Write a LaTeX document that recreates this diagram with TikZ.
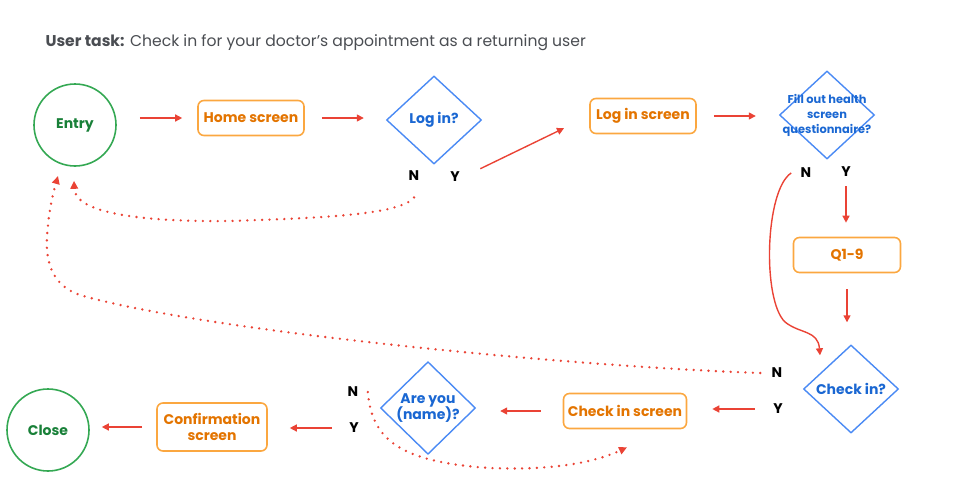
\documentclass[tikz,border=0pt]{standalone}
\usepackage{fontspec}
\setmainfont{Poppins}
\usetikzlibrary{shapes.geometric,arrows.meta}

\definecolor{flowred}{HTML}{EA4335}
\definecolor{endgreen}{HTML}{34A853}
\definecolor{endtext}{HTML}{188038}
\definecolor{boxorange}{HTML}{FBA740}
\definecolor{boxtext}{HTML}{E37400}
\definecolor{askblue}{HTML}{4A8AF4}
\definecolor{asktext}{HTML}{1A67D2}
\definecolor{titlegray}{HTML}{4A4D52}

\newcommand*{\picW}{960}
\newcommand*{\picH}{493}

\begin{document}
\begin{tikzpicture}[x=1pt,y=-1pt,
    every node/.style={font=\fontsize{14}{16.5}\selectfont\bfseries},
    endpt/.style={circle,draw=endgreen,line width=1.6pt,minimum size=82pt,inner sep=0pt,text=endtext},
    screen/.style={rectangle,rounded corners=6pt,draw=boxorange,line width=1.6pt,text=boxtext,minimum height=35pt,align=center},
    ask/.style={diamond,draw=askblue,line width=1.4pt,minimum width=95pt,minimum height=88pt,inner sep=0pt,text=asktext,align=center},
    asksmall/.style={text=asktext,align=center,font=\fontsize{11.4}{15}\selectfont\bfseries},
    yn/.style={text=black,font=\fontsize{14}{16}\selectfont\bfseries},
    arr/.style={flowred,line width=1.4pt,-{Triangle[length=7pt,width=7pt]}},
    dots/.style={flowred,line width=2.6pt,line cap=round,dash pattern=on 0pt off 7.4pt,-{Triangle[length=8pt,width=7.5pt]}}]
    \useasboundingbox (0,0) rectangle (\picW,\picH);

    % title
    \node[anchor=west,text=titlegray,font=\fontsize{15.6}{18}\selectfont] (title) at (42,43)
        {\textbf{User task:} Check in for your doctor’s appointment as a returning user};

    % top row
    \node[endpt] (entry) at (75,125) {Entry};
    \node[screen,minimum width=106pt] (home) at (251,118) {Home screen};
    \node[ask] (login) at (434,120) {Log in?};
    \node[screen,minimum width=106pt] (loginscr) at (643,116) {Log in screen};
    \node[ask] (fillout) at (827,115) {};
    \node[asksmall] (filltext) at (fillout) {Fill out health\\screen\\questionnaire?};

    % right column
    \node[screen,minimum width=107pt] (qnine) at (847,255) {Q1-9};
    \node[ask] (checkin) at (851,389) {Check in?};

    % bottom row
    \node[screen,minimum width=123pt] (checkscr) at (625,411) {Check in screen};
    \node[ask] (areyou) at (428,408) {Are you\\(name)?};
    \node[screen,minimum width=110pt,minimum height=48pt] (confirm) at (212,427) {Confirmation\\screen};
    \node[endpt] (close) at (48,430) {Close};

    % N / Y labels
    \foreach \nm/\x/\y/\t in {loginN/414/176/N,loginY/455/177/Y,fillN/806/173/N,fillY/846/172/Y,
                             checkN/777/373/N,checkY/778/409/Y,areN/353/392/N,areY/354/428/Y} {
        \node[yn] (\nm) at (\x,\y) {\t};
    }

    % straight arrows
    \draw[arr,shorten <=23pt,shorten >=15pt] (entry.east |- home.west) -- (home.west);
    \draw[arr,shorten <=17pt,shorten >=22pt] (home.east) -- (home.east -| login.west);
    \draw[arr,shorten <=19pt,shorten >=28pt] (loginY.east) -- (loginscr.west);
    \draw[arr,shorten <=17pt,shorten >=23pt] (loginscr.east) -- (loginscr.east -| fillout.west);
    \draw[arr,shorten <=6pt,shorten >=14pt] (fillY.south) -- (fillY.south |- qnine.north);
    \draw[arr,shorten <=16pt,shorten >=22pt] (qnine.south) -- (qnine.south |- checkin.north);
    \draw[arr,shorten <=15pt,shorten >=25pt] (checkY.west) -- (checkY.west -| checkscr.east);
    \draw[arr,shorten <=22pt,shorten >=24pt] (checkscr.west) -- (checkscr.west -| areyou.east);
    \draw[arr,shorten <=14pt,shorten >=22pt] (areY.west) -- (areY.west -| confirm.east);
    \draw[arr,shorten <=14pt,shorten >=12pt] (confirm.west) -- (confirm.west -| close.east);

    % curved ones
    \draw[arr] ([xshift=-6pt]fillN.west) .. controls (765,190) and (762,300) .. (785,322)
        .. controls (800,334) and (818,330) .. ([shift={(-31pt,-11pt)}]checkin.north);
    \draw[dots] ([yshift=-13pt]loginN.south) .. controls (400,215) and (320,218) .. (230,221)
        .. controls (140,222) and (75,213) .. ([shift={(-1pt,-14pt)}]entry.south);
    \draw[dots] ([xshift=-8pt]checkN.west) .. controls (560,366) and (200,330) .. (80,295)
        .. controls (45,283) and (45,250) .. (48,225)
        .. controls (50,205) and (54,190) .. (58,176);
    \draw[dots] ([xshift=6pt]areN.east) .. controls (372,440) and (400,462) .. (490,468)
        .. controls (560,471) and (600,460) .. ([shift={(2pt,-18pt)}]checkscr.south);
\end{tikzpicture}
\end{document}
